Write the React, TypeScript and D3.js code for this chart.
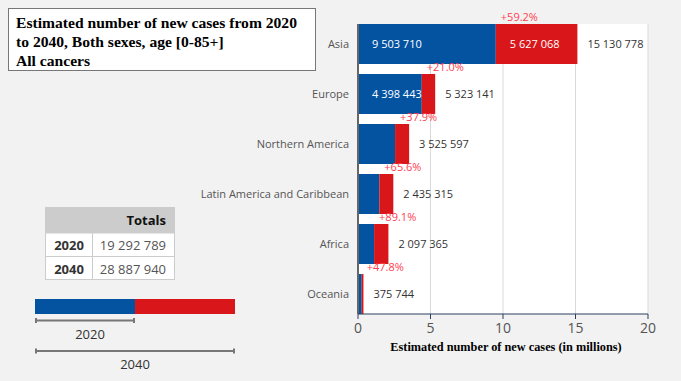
import React from "react";
import * as d3 from "d3";

const regions = ["Asia", "Europe", "Northern America", "Latin America and Caribbean", "Africa", "Oceania"];
const cases2020 = [9503710, 4398443, 2556862, 1470274, 1109209, 254291];
const cases2040 = [15130778, 5323141, 3525597, 2435315, 2097365, 375744];
const xTicks = [0, 5, 10, 15, 20];
const totalYears = ["2020", "2040"];
const totalValues = [19292789, 28887940];
const titleLines = ["Estimated number of new cases from 2020", "to 2040, Both sexes, age [0-85+]", "All cancers"];

const BLUE = "#0353a1";
const RED = "#d9161a";
const PCT = "#ff4050";
const fmt = (v: number) => d3.format(",")(v).replace(/,/g, " ");
const sans = "'Open Sans', sans-serif";

export default function App() {
  const W = 681, H = 381;
  const x = d3.scaleLinear().domain([0, 20]).range([358, 648]);
  const y = d3.scaleBand<string>().domain(regions).range([24, 314]).paddingInner(0.2).paddingOuter(0);
  const bw = y.bandwidth();
  const M = 1e6;

  return (
    <svg width={W} height={H} style={{ position: "absolute", left: 0, top: 0, background: "#f2f2f2" }}>
      <rect x={0} y={0} width={W} height={H} fill="#f2f2f2" />
      <rect x={x(0)} y={24} width={x(20) - x(0)} height={290} fill="#ffffff" />
      {xTicks.slice(1).map((t) => (
        <line key={t} x1={x(t)} x2={x(t)} y1={24} y2={314} stroke="#d9d9d9" strokeWidth={1} />
      ))}
      {regions.map((r, i) => {
        const y0 = y(r)!;
        const xb = x(cases2020[i] / M);
        const xe = x(cases2040[i] / M);
        const pct = ((cases2040[i] / cases2020[i] - 1) * 100).toFixed(1);
        const showBlue = xb - x(0) > 60;
        const showRed = xe - xb > 60;
        return (
          <g key={r}>
            <rect x={x(0)} y={y0} width={xb - x(0)} height={bw} fill={BLUE} />
            <rect x={xb} y={y0} width={xe - xb} height={bw} fill={RED} />
            {showBlue && (
              <text x={x(0) + 14} y={y0 + bw / 2} dy="0.35em" fill="#fff" fontFamily={sans} fontSize={11}>
                {fmt(cases2020[i])}
              </text>
            )}
            {showRed && (
              <text x={xb + 14} y={y0 + bw / 2} dy="0.35em" fill="#fff" fontFamily={sans} fontSize={11}>
                {fmt(cases2040[i] - cases2020[i])}
              </text>
            )}
            <text x={xe + 10} y={y0 + bw / 2} dy="0.35em" fill="#333" fontFamily={sans} fontSize={11}>
              {fmt(cases2040[i])}
            </text>
            <text x={xb + 5} y={y0 - 3} fill={PCT} fontFamily={sans} fontSize={11}>
              {"+" + pct + "%"}
            </text>
            <text x={x(0) - 9} y={y0 + bw / 2} dy="0.35em" textAnchor="end" fill="#555" fontFamily={sans} fontSize={11}>
              {r}
            </text>
          </g>
        );
      })}
      <line x1={x(0)} x2={x(0)} y1={24} y2={314} stroke="#666" strokeWidth={2} />
      <line x1={x(0)} x2={x(20)} y1={314} y2={314} stroke="#2a3f5f" strokeWidth={1} />
      {xTicks.map((t) => (
        <g key={t}>
          <line x1={x(t)} x2={x(t)} y1={314} y2={319} stroke="#2a3f5f" />
          <text x={x(t)} y={328} dy="0.35em" textAnchor="middle" fill="#555" fontFamily={sans} fontSize={14}>
            {t}
          </text>
        </g>
      ))}
      <text x={(x(0) + x(20)) / 2 + 3} y={351} textAnchor="middle" fontFamily="'Liberation Serif', serif" fontWeight="bold" fontSize={12.3} fill="#000">
        Estimated number of new cases (in millions)
      </text>

      <rect x={8.5} y={8.5} width={307} height={62} fill="#fff" stroke="#777" strokeWidth={1} />
      {titleLines.map((l, i) => (
        <text key={i} x={16} y={27.5 + i * 19} fontFamily="'Liberation Serif', serif" fontWeight="bold" fontSize={15.6} fill="#000">
          {l}
        </text>
      ))}

      <rect x={45.5} y={207.5} width={129} height={72} fill="#fff" stroke="#ccc" />
      <rect x={45.5} y={207.5} width={129} height={25.5} fill="#cccccc" stroke="#ccc" />
      <line x1={45.5} x2={174.5} y1={256.5} y2={256.5} stroke="#ccc" />
      <line x1={92.5} x2={92.5} y1={233} y2={279.5} stroke="#ccc" />
      <text x={166} y={220} dy="0.35em" textAnchor="end" fontFamily={sans} fontWeight="bold" fontSize={13} fill="#111">
        Totals
      </text>
      {totalYears.map((yr, i) => (
        <g key={yr}>
          <text x={69} y={245 + i * 24} dy="0.35em" textAnchor="middle" fontFamily={sans} fontWeight="bold" fontSize={13} fill="#333">
            {yr}
          </text>
          <text x={166} y={245 + i * 24} dy="0.35em" textAnchor="end" fontFamily={sans} fontSize={13} fill="#555">
            {fmt(totalValues[i])}
          </text>
        </g>
      ))}

      <rect x={35} y={299} width={100} height={15} fill={BLUE} />
      <rect x={135} y={299} width={100} height={15} fill={RED} />
      <g stroke="#777" strokeWidth={2}>
        <line x1={36} x2={134} y1={320.5} y2={320.5} />
        <line x1={36} x2={36} y1={318} y2={323} />
        <line x1={134} x2={134} y1={318} y2={323} />
        <line x1={36} x2={234} y1={351} y2={351} />
        <line x1={36} x2={36} y1={348.5} y2={353.5} />
        <line x1={234} x2={234} y1={348.5} y2={353.5} />
      </g>
      <text x={90} y={339} textAnchor="middle" fontFamily={sans} fontSize={13} fill="#333">2020</text>
      <text x={135} y={369} textAnchor="middle" fontFamily={sans} fontSize={13} fill="#333">2040</text>
    </svg>
  );
}
